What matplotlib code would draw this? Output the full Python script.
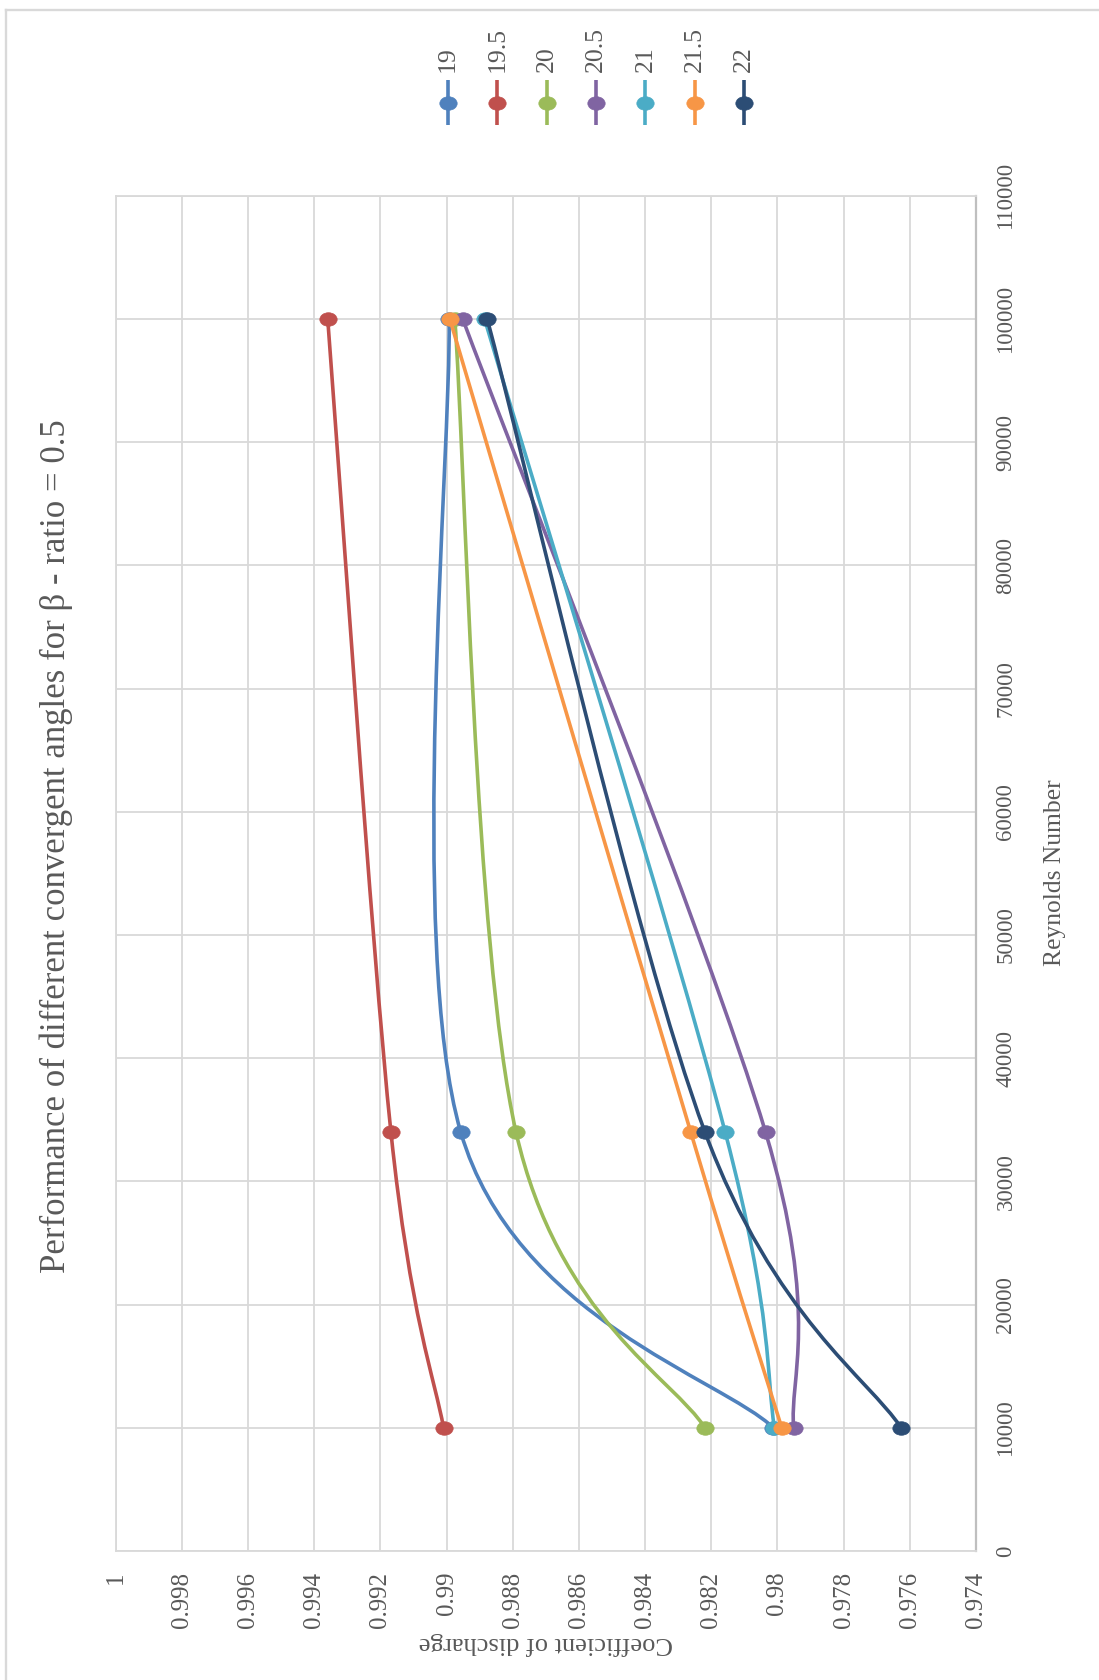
import numpy as np
import matplotlib
matplotlib.use("Agg")
import matplotlib.pyplot as plt
from matplotlib.path import Path
from matplotlib.patches import PathPatch
from matplotlib.lines import Line2D
from matplotlib.transforms import Affine2D

# Discharge coefficient vs Reynolds number, one series per convergent angle (deg)
reynolds = [10000, 34000, 100000]
angles = ["19", "19.5", "20", "20.5", "21", "21.5", "22"]
cd_19 = [0.98012, 0.98957, 0.98992]
cd_19_5 = [0.99009, 0.99168, 0.99359]
cd_20 = [0.98219, 0.98790, 0.98975]
cd_20_5 = [0.97951, 0.98036, 0.98951]
cd_21 = [0.98009, 0.98158, 0.98885]
cd_21_5 = [0.97987, 0.98262, 0.98990]
cd_22 = [0.97626, 0.98219, 0.98877]
series = [cd_19, cd_19_5, cd_20, cd_20_5, cd_21, cd_21_5, cd_22]
colors = ["#4F81BD", "#C0504D", "#9BBB59", "#8064A2", "#4BACC6", "#F79646", "#2C4D75"]

cd_ticks = [1, 0.998, 0.996, 0.994, 0.992, 0.99, 0.988, 0.986, 0.984, 0.982,
            0.98, 0.978, 0.976, 0.974]
re_ticks = [0, 10000, 20000, 30000, 40000, 50000, 60000, 70000, 80000, 90000,
            100000, 110000]

TITLE = "Performance of different convergent angles for \u03b2 - ratio = 0.5"
GREY = "#595959"
GRID = "#d9d9d9"
FONT = ["Liberation Serif", "DejaVu Serif"]
plt.rcParams["font.family"] = FONT

W, H = 1099, 1680


def fx(px):
    return px / W


def fy(py):
    return 1 - py / H


def smooth_path(xs, ys):
    """Spreadsheet-style smoothed line: cubic Bezier through every point."""
    pts = np.column_stack([xs, ys]).astype(float)
    n = len(pts)
    verts = [pts[0]]
    codes = [Path.MOVETO]
    for i in range(n - 1):
        p_prev = pts[max(i - 1, 0)]
        p0, p1 = pts[i], pts[i + 1]
        p_next = pts[min(i + 2, n - 1)]
        c1 = p0 + (p1 - p_prev) / 6.0
        c2 = p1 - (p_next - p0) / 6.0
        verts += [c1, c2, p1]
        codes += [Path.CURVE4] * 3
    return Path(verts, codes)


ellipse = Path.unit_circle().transformed(Affine2D().scale(1.0, 0.78))

fig = plt.figure(figsize=(W / 100, H / 100), dpi=100)
ax = fig.add_axes([fx(115.6), fy(1551), fx(976) - fx(115.6), fy(195.8) - fy(1551)])

# Cd runs along the horizontal (1 at left), Reynolds number up the right side
for k, (vals, col) in enumerate(zip(series, colors)):
    z = 3 + k
    ax.add_patch(PathPatch(smooth_path(vals, reynolds), fill=False, edgecolor=col,
                           lw=2.6, capstyle="round", joinstyle="round", zorder=z))
    ax.plot(vals, reynolds, linestyle="none", marker=ellipse, markersize=12.5,
            color=col, mec=col, mew=0.5, zorder=z + 0.5)

ax.set_xlim(1, 0.974)
ax.set_ylim(0, 110000)
ax.set_xticks(cd_ticks)
ax.set_xticklabels([f"{v:g}" for v in cd_ticks])
ax.set_yticks(re_ticks)
ax.set_yticklabels([str(v) for v in re_ticks])
ax.yaxis.tick_right()
ax.tick_params(axis="both", length=0, colors=GREY)
ax.tick_params(axis="x", pad=15, labelsize=18)
ax.tick_params(axis="y", pad=14, labelsize=16.5)
plt.setp(ax.get_xticklabels(), rotation=90, ha="center", va="top")
plt.setp(ax.get_yticklabels(), rotation=90, ha="left", va="center")
ax.grid(True, color=GRID, lw=1.3)
ax.set_axisbelow(True)
for side in ["left", "top", "bottom"]:
    ax.spines[side].set_color(GRID)
    ax.spines[side].set_linewidth(1.3)
ax.spines["right"].set_color("#bfbfbf")
ax.spines["right"].set_linewidth(1.6)

fig.text(fx(56), 0.4964, TITLE, rotation=90, ha="center", va="center",
         fontsize=25, color=GREY)
fig.text(fx(1055), fy(873), "Reynolds Number", rotation=90, ha="center",
         va="center", fontsize=18.4, color=GREY)
fig.text(fx(546), fy(1643), "Coefficient of discharge", rotation=180,
         ha="center", va="center", fontsize=19, color=GREY)

# legend strip across the top
for k, (name, col) in enumerate(zip(angles, colors)):
    x = fx(447.8 + k * 49.4)
    fig.add_artist(Line2D([x, x], [fy(80), fy(125)], transform=fig.transFigure,
                          color=col, lw=2.6, solid_capstyle="butt"))
    fig.add_artist(Line2D([x], [fy(102.8)], transform=fig.transFigure,
                          linestyle="none", marker=ellipse, markersize=12.5,
                          color=col, mec=col, mew=0.5))
    fig.text(x, fy(72), name, rotation=90, ha="center", va="bottom",
             fontsize=18.5, color=GREY)

# chart frame (top and left edges)
fig.add_artist(Line2D([fx(6), 1], [fy(10), fy(10)], transform=fig.transFigure,
                      color=GRID, lw=1.7))
fig.add_artist(Line2D([fx(6), fx(6)], [fy(10), 0], transform=fig.transFigure,
                      color=GRID, lw=1.7))

fig.savefig("out.png", dpi=100, facecolor="white")
